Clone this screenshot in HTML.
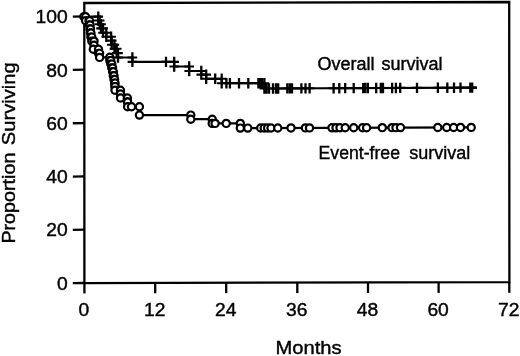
<!DOCTYPE html>
<html><head><meta charset="utf-8"><title>Survival</title>
<style>html,body{margin:0;padding:0;background:#fff;overflow:hidden}svg{display:block}</style>
</head><body>
<svg width="520" height="356" viewBox="0 0 520 356">
<rect width="520" height="356" fill="#fff"/>
<g fill="none" stroke="#000" stroke-width="2.3">
<path d="M84.3 3 L509.2 2 L509.4 282.1 L84.4 283.1 Z"/>
<path d="M72.8 283.2 L84.4 283"/>
<path d="M72.8 229.88 L84.4 229.68"/>
<path d="M72.8 176.56 L84.4 176.36"/>
<path d="M72.8 123.24 L84.4 123.04"/>
<path d="M72.8 69.92 L84.4 69.72"/>
<path d="M72.8 16.6 L84.4 16.4"/>
<path d="M84.4 283 V293.4"/>
<path d="M155.2 282.85 V293.3"/>
<path d="M226.2 282.7 V293.2"/>
<path d="M297.3 282.55 V293.1"/>
<path d="M368 282.4 V293"/>
<path d="M438.6 282.25 V292.9"/>
<path d="M509.3 282.1 V292.8"/>
</g>
<g fill="none" stroke="#000" stroke-width="2.2">
<path d="M84.4 16.6 H98.3 V20.5 H99.7 V24.3 H101 V28.4 H103 V32.7 H106.3 V36.8 H111.1 V40.6 H111.7 V44.7 H114.4 V48.8 H116.7 V53.1 H118 V57.5 H132.4 V61.9 H174.2 V66.5 H189.2 V71 H201.3 V74.6 H206.2 V78.8 H221.7 V83.2 H264.4 V88.5 L477 87.5884"/>
<path d="M84.4 16.6 H89 V20.86 H89.6 V24.92 H90.1 V28.98 H90.5 V33.04 H90.9 V37.1 H91.8 V41.16 H94 V45.22 H93.3 V49.28 H98.5 V53.34 H99.6 V57.4 H109.8 V60.6 H110.8 V64.1 H111.8 V67.9 H112.6 V71.8 H113.3 V75.7 H114 V79.5 H114.6 V83.1 H115 V86.6 H115 V90.2 H120.5 V94.1 H120.5 V98 H127.4 V102 H127.6 V106.8 H139.4 V111 H139.4 V115.1 H190.8 V119.2 H212.2 V123.4 H240.3 V128.1 L475 127.395"/>
</g>
<path fill="none" stroke="#000" stroke-width="2.1" d="M93.5 16.6h9.6M93.5 20.5h9.6M94.9 20.5h9.6M94.9 24.3h9.6M96.2 24.3h9.6M96.2 28.4h9.6M98.2 28.4h9.6M98.2 32.7h9.6M101.5 32.7h9.6M101.5 36.8h9.6M106.3 36.8h9.6M106.3 40.6h9.6M106.9 40.6h9.6M106.9 44.7h9.6M109.6 44.7h9.6M109.6 48.8h9.6M111.9 48.8h9.6M111.9 53.1h9.6M113.2 53.1h9.6M113.2 57.5h9.6M127.6 57.5h9.6M127.6 61.9h9.6M169.4 61.9h9.6M169.4 66.5h9.6M184.4 66.5h9.6M184.4 71h9.6M196.5 71h9.6M196.5 74.6h9.6M201.4 74.6h9.6M201.4 78.8h9.6M216.9 78.8h9.6M216.9 83.2h9.6M259.6 83.2h9.6M259.6 88.5h9.6M161.2 61.9h9.6M210.4 78.8h9.6M221.6 83.2h9.6M225.1 83.2h9.6M234.2 83.2h9.6M243.5 83.2h9.6M253.6 83.2h9.6M255.4 83.2h9.6M257.2 83.2h9.6M261.7 88.4935h9.6M264.2 88.4828h9.6M268.2 88.4656h9.6M271.2 88.4527h9.6M273.4 88.4432h9.6M282.5 88.4041h9.6M285 88.3934h9.6M287.2 88.3839h9.6M296.6 88.3435h9.6M300.7 88.3259h9.6M304.8 88.3082h9.6M328.8 88.205h9.6M334.5 88.1805h9.6M340.4 88.1551h9.6M348.9 88.1186h9.6M358.4 88.0777h9.6M360.5 88.0687h9.6M363.1 88.0575h9.6M371.4 88.0218h9.6M376 88.0021h9.6M378.2 87.9926h9.6M387.3 87.9535h9.6M391.1 87.9371h9.6M395.4 87.9186h9.6M412.2 87.8464h9.6M433.1 87.7565h9.6M442.5 87.7161h9.6M449.2 87.6873h9.6M455.7 87.6594h9.6M465.5 87.6172h9.6M467.4 87.609h9.6"/>
<path fill="none" stroke="#000" stroke-width="2.3" d="M98.3 11.4v10.4M98.3 15.3v10.4M99.7 15.3v10.4M99.7 19.1v10.4M101 19.1v10.4M101 23.2v10.4M103 23.2v10.4M103 27.5v10.4M106.3 27.5v10.4M106.3 31.6v10.4M111.1 31.6v10.4M111.1 35.4v10.4M111.7 35.4v10.4M111.7 39.5v10.4M114.4 39.5v10.4M114.4 43.6v10.4M116.7 43.6v10.4M116.7 47.9v10.4M118 47.9v10.4M118 52.3v10.4M132.4 52.3v10.4M132.4 56.7v10.4M174.2 56.7v10.4M174.2 61.3v10.4M189.2 61.3v10.4M189.2 65.8v10.4M201.3 65.8v10.4M201.3 69.4v10.4M206.2 69.4v10.4M206.2 73.6v10.4M221.7 73.6v10.4M221.7 78v10.4M264.4 78v10.4M264.4 83.3v10.4M166 56.7v10.4M215.2 73.6v10.4M226.4 78v10.4M229.9 78v10.4M239 78v10.4M248.3 78v10.4M258.4 78v10.4M260.2 78v10.4M262 78v10.4M266.5 83.2935v10.4M269 83.2828v10.4M273 83.2656v10.4M276 83.2527v10.4M278.2 83.2432v10.4M287.3 83.2041v10.4M289.8 83.1934v10.4M292 83.1839v10.4M301.4 83.1435v10.4M305.5 83.1258v10.4M309.6 83.1082v10.4M333.6 83.005v10.4M339.3 82.9805v10.4M345.2 82.9551v10.4M353.7 82.9186v10.4M363.2 82.8777v10.4M365.3 82.8687v10.4M367.9 82.8575v10.4M376.2 82.8218v10.4M380.8 82.8021v10.4M383 82.7926v10.4M392.1 82.7535v10.4M395.9 82.7371v10.4M400.2 82.7186v10.4M417 82.6464v10.4M437.9 82.5565v10.4M447.3 82.5161v10.4M454 82.4873v10.4M460.5 82.4594v10.4M470.3 82.4172v10.4M472.2 82.409v10.4"/>
<g fill="#fff" stroke="#000" stroke-width="2.2">
<circle cx="83.8" cy="16.8" r="3.6"/>
<circle cx="85.6" cy="16.8" r="3.6"/>
<circle cx="85.6" cy="20.8" r="3.6"/>
<circle cx="89" cy="20.86" r="3.6"/>
<circle cx="89.6" cy="20.86" r="3.6"/>
<circle cx="89.6" cy="24.92" r="3.6"/>
<circle cx="90.1" cy="24.92" r="3.6"/>
<circle cx="90.1" cy="28.98" r="3.6"/>
<circle cx="90.5" cy="28.98" r="3.6"/>
<circle cx="90.5" cy="33.04" r="3.6"/>
<circle cx="90.9" cy="33.04" r="3.6"/>
<circle cx="90.9" cy="37.1" r="3.6"/>
<circle cx="91.8" cy="37.1" r="3.6"/>
<circle cx="91.8" cy="41.16" r="3.6"/>
<circle cx="94" cy="41.16" r="3.6"/>
<circle cx="94" cy="45.22" r="3.6"/>
<circle cx="93.3" cy="49.28" r="3.6"/>
<circle cx="98.5" cy="49.28" r="3.6"/>
<circle cx="98.5" cy="53.34" r="3.6"/>
<circle cx="99.6" cy="53.34" r="3.6"/>
<circle cx="99.6" cy="57.4" r="3.6"/>
<circle cx="109.8" cy="57.2" r="3.6"/>
<circle cx="109.8" cy="60.6" r="3.6"/>
<circle cx="110.8" cy="60.6" r="3.6"/>
<circle cx="110.8" cy="64.1" r="3.6"/>
<circle cx="111.8" cy="64.1" r="3.6"/>
<circle cx="111.8" cy="67.9" r="3.6"/>
<circle cx="112.6" cy="67.9" r="3.6"/>
<circle cx="112.6" cy="71.8" r="3.6"/>
<circle cx="113.3" cy="71.8" r="3.6"/>
<circle cx="113.3" cy="75.7" r="3.6"/>
<circle cx="114" cy="75.7" r="3.6"/>
<circle cx="114" cy="79.5" r="3.6"/>
<circle cx="114.6" cy="79.5" r="3.6"/>
<circle cx="114.6" cy="83.1" r="3.6"/>
<circle cx="115" cy="83.1" r="3.6"/>
<circle cx="115" cy="86.6" r="3.6"/>
<circle cx="115" cy="86.6" r="3.6"/>
<circle cx="115" cy="90.2" r="3.6"/>
<circle cx="120.5" cy="90.2" r="3.6"/>
<circle cx="120.5" cy="94.1" r="3.6"/>
<circle cx="120.5" cy="94.1" r="3.6"/>
<circle cx="120.5" cy="98" r="3.6"/>
<circle cx="127.4" cy="98" r="3.6"/>
<circle cx="127.4" cy="102" r="3.6"/>
<circle cx="127.6" cy="102" r="3.6"/>
<circle cx="127.6" cy="106.8" r="3.6"/>
<circle cx="131.5" cy="106.8" r="3.6"/>
<circle cx="139.4" cy="106.8" r="3.6"/>
<circle cx="139.4" cy="115.1" r="3.6"/>
<circle cx="190.8" cy="115.1" r="3.6"/>
<circle cx="190.8" cy="119.2" r="3.6"/>
<circle cx="212.2" cy="119.2" r="3.6"/>
<circle cx="212.2" cy="123.4" r="3.6"/>
<circle cx="215.1" cy="123.4" r="3.6"/>
<circle cx="226.2" cy="123.4" r="3.6"/>
<circle cx="240.3" cy="123.4" r="3.6"/>
<circle cx="240.3" cy="128.1" r="3.6"/>
<circle cx="247.8" cy="128.077" r="3.6"/>
<circle cx="260.7" cy="128.038" r="3.6"/>
<circle cx="264.2" cy="128.027" r="3.6"/>
<circle cx="267.6" cy="128.017" r="3.6"/>
<circle cx="271" cy="128.007" r="3.6"/>
<circle cx="277.8" cy="127.987" r="3.6"/>
<circle cx="291" cy="127.947" r="3.6"/>
<circle cx="305.4" cy="127.904" r="3.6"/>
<circle cx="309.5" cy="127.891" r="3.6"/>
<circle cx="332" cy="127.824" r="3.6"/>
<circle cx="336" cy="127.812" r="3.6"/>
<circle cx="340" cy="127.8" r="3.6"/>
<circle cx="345.2" cy="127.784" r="3.6"/>
<circle cx="353.7" cy="127.759" r="3.6"/>
<circle cx="362.6" cy="127.732" r="3.6"/>
<circle cx="366.6" cy="127.72" r="3.6"/>
<circle cx="382.3" cy="127.673" r="3.6"/>
<circle cx="392" cy="127.644" r="3.6"/>
<circle cx="396" cy="127.632" r="3.6"/>
<circle cx="400.5" cy="127.618" r="3.6"/>
<circle cx="437.8" cy="127.507" r="3.6"/>
<circle cx="446.7" cy="127.48" r="3.6"/>
<circle cx="453.6" cy="127.459" r="3.6"/>
<circle cx="460.5" cy="127.438" r="3.6"/>
<circle cx="471.2" cy="127.406" r="3.6"/>
</g>
<g font-family="'Liberation Sans', Arial, Helvetica, sans-serif" fill="#000" stroke="#000">
<text transform="translate(67.6 290.2) scale(1.07 1)" text-anchor="end" font-size="18" stroke-width="0.4">0</text>
<text transform="translate(67.6 236.38) scale(1.07 1)" text-anchor="end" font-size="18" stroke-width="0.4">20</text>
<text transform="translate(67.6 183.06) scale(1.07 1)" text-anchor="end" font-size="18" stroke-width="0.4">40</text>
<text transform="translate(67.6 129.74) scale(1.07 1)" text-anchor="end" font-size="18" stroke-width="0.4">60</text>
<text transform="translate(67.6 76.92) scale(1.07 1)" text-anchor="end" font-size="18" stroke-width="0.4">80</text>
<text transform="translate(67.6 23.1) scale(1.07 1)" text-anchor="end" font-size="18" stroke-width="0.4">100</text>
<text transform="translate(83.9 316.3) scale(1.07 1)" text-anchor="middle" font-size="18" stroke-width="0.4">0</text>
<text transform="translate(154.7 316.23) scale(1.07 1)" text-anchor="middle" font-size="18" stroke-width="0.4">12</text>
<text transform="translate(225.7 316.16) scale(1.07 1)" text-anchor="middle" font-size="18" stroke-width="0.4">24</text>
<text transform="translate(296.8 316.09) scale(1.07 1)" text-anchor="middle" font-size="18" stroke-width="0.4">36</text>
<text transform="translate(367.5 316.02) scale(1.07 1)" text-anchor="middle" font-size="18" stroke-width="0.4">48</text>
<text transform="translate(438.1 315.95) scale(1.07 1)" text-anchor="middle" font-size="18" stroke-width="0.4">60</text>
<text transform="translate(508.8 315.88) scale(1.07 1)" text-anchor="middle" font-size="18" stroke-width="0.4">72</text>
<text transform="translate(275.5 354.3) scale(1.09 1)" text-anchor="start" font-size="18.5" stroke-width="0.4">Months</text>
<text transform="translate(317.5 69.5)" text-anchor="start" font-size="18" stroke-width="0.4">Overall</text>
<text transform="translate(381.6 69.5)" text-anchor="start" font-size="18" stroke-width="0.4">survival</text>
<text transform="translate(318.6 158.6) scale(0.98 1)" text-anchor="start" font-size="18" stroke-width="0.4">Event-free</text>
<text transform="translate(409.2 158.6)" text-anchor="start" font-size="18" stroke-width="0.4">survival</text>
<text transform="translate(15.2 243.6) rotate(-90) scale(1.067 1)" text-anchor="start" font-size="18.5" stroke-width="0.4">Proportion</text>
<text transform="translate(15.2 145.2) rotate(-90) scale(1.09 1)" text-anchor="start" font-size="18.5" stroke-width="0.4">Surviving</text>
</g>
</svg>
</body></html>
